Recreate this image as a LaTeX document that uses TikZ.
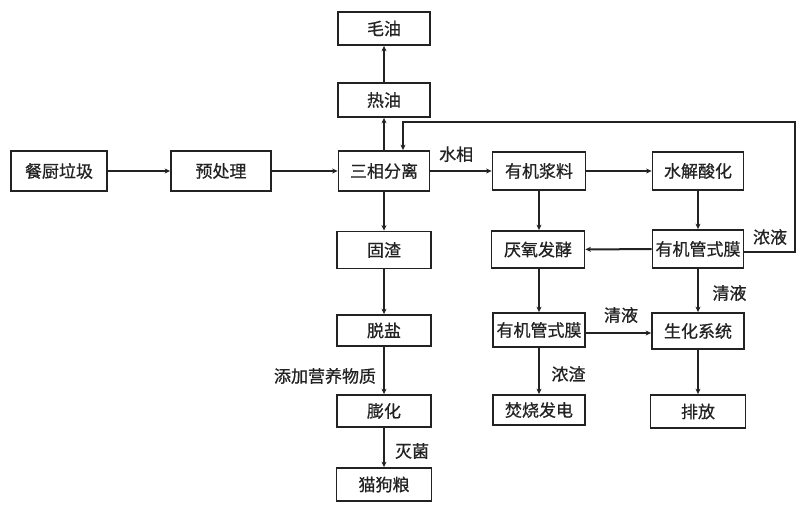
\documentclass[tikz,border=0pt]{standalone}
\usepackage{fontspec}
\newfontfamily\cjk[FakeBold=0.7]{Noto Sans CJK SC}
\usetikzlibrary{arrows.meta}
\definecolor{ink}{HTML}{222222}
\tikzset{
  box/.style={draw=ink, line width=1.8pt, minimum width=92pt, minimum height=35pt, inner sep=1pt, font=\cjk\fontsize{17pt}{17pt}\selectfont, text=ink},
  lbl/.style={font=\cjk\fontsize{17pt}{17pt}\selectfont, text=ink, inner sep=0pt},
  arr/.style={draw=ink, line width=2pt, -{Stealth[length=5.5pt,width=5pt]}}
}
\begin{document}
\begin{tikzpicture}[x=1pt,y=-1pt]
\useasboundingbox[fill=white] (0,0) rectangle (800,506);
% nodes
\node[box, minimum height=33pt] (maoyou) at (384,28.5) {毛油};
\node[box, minimum height=34pt] (reyou) at (384,100) {热油};
\node[box, minimum width=96pt, minimum height=40pt] (canchu) at (59,171) {餐厨垃圾};
\node[box, minimum width=100pt, minimum height=40pt] (yuchuli) at (221,171) {预处理};
\node[box, minimum width=91pt, minimum height=40pt] (sanxiang) at (384,171) {三相分离};
\node[box, minimum width=93pt, minimum height=38pt] (jiangliao) at (539,171) {有机浆料};
\node[box, minimum width=91pt, minimum height=38pt] (shuijie) at (698,171) {水解酸化};
\node[box, minimum width=94pt, minimum height=37pt] (guzha) at (384,250) {固渣};
\node[box, minimum width=93pt, minimum height=37pt] (yanyang) at (538,249.5) {厌氧发酵};
\node[box, minimum width=91pt, minimum height=38pt] (mo1) at (698,249) {有机管式膜};
\node[box, minimum width=94pt, minimum height=31pt] (tuoyan) at (384,330.5) {脱盐};
\node[box, minimum width=92pt, minimum height=34pt] (mo2) at (539,330) {有机管式膜};
\node[box, minimum width=92pt, minimum height=36pt] (shenghua) at (698,331) {生化系统};
\node[box, minimum width=94pt, minimum height=32pt] (penghua) at (384,411) {膨化};
\node[box, minimum width=92pt, minimum height=30pt] (fenshao) at (539,410) {焚烧发电};
\node[box, minimum width=95pt, minimum height=33pt] (paifang) at (698,411.5) {排放};
\node[box, minimum width=95pt, minimum height=33pt] (maogou) at (384,484.5) {猫狗粮};
% feedback corner coordinates
\coordinate (fbA) at (795,252);
\coordinate (fbB) at (795,122);
\coordinate (fbC) at (403,122);
% arrows
\draw[arr] (canchu) -- (yuchuli.west |- canchu);
\draw[arr] (yuchuli.east |- sanxiang) -- (sanxiang);
\draw[arr] (sanxiang) -- (reyou);
\draw[arr] (reyou) -- (maoyou);
\draw[arr] (sanxiang) -- node[lbl, above=8pt, pos=0.42] (shuixiang) {水相} (jiangliao);
\draw[arr] (jiangliao) -- (shuijie);
\draw[arr] (sanxiang) -- (guzha);
\draw[arr] (jiangliao.south) -- (jiangliao.south |- yanyang.north);
\draw[arr] (shuijie.south -| mo1) -- (mo1);
\draw[arr] (mo1) -- (yanyang);
\draw[arr] (mo1.east |- fbA) -- (fbA) -- (fbB) -- (fbC) -- (fbC |- sanxiang.north);
\node[lbl] (nongye) at (770,237) {浓液};
\draw[arr] (guzha) -- (tuoyan);
\draw[arr] (yanyang.south -| mo2) -- (mo2);
\draw[arr] (mo1.south -| shenghua) -- (shenghua);
\node[lbl] (qingye1) at (729.5,293) {清液};
\draw[arr] (mo2.east |- 0,333) -- (shenghua.west |- 0,333);
\node[lbl] (qingye2) at (621,315) {清液};
\draw[arr] (tuoyan) -- (penghua);
\node[lbl] (tianjia) at (325,376) {添加营养物质};
\draw[arr] (penghua) -- (maogou);
\node[lbl] (miejun) at (412,451) {灭菌};
\draw[arr] (mo2) -- (fenshao);
\node[lbl] (nongzha) at (568.5,374) {浓渣};
\draw[arr] (shenghua) -- (paifang);
\end{tikzpicture}
\end{document}
